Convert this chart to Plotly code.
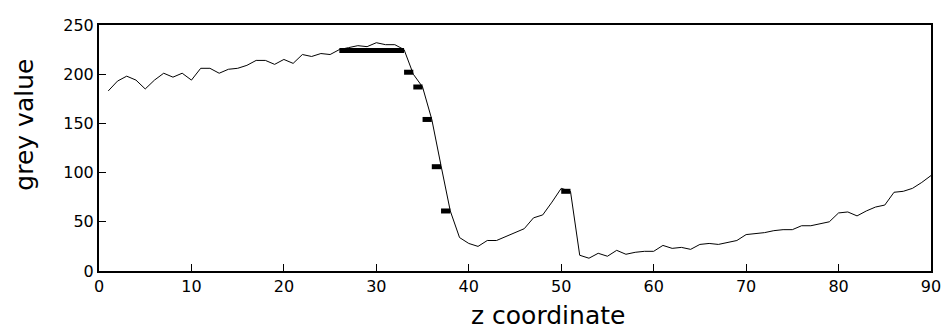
import plotly.graph_objects as go

z = list(range(1, 91))
grey = [183, 193, 198, 194, 185, 194, 201, 197, 201, 194,
        206, 206, 201, 205, 206, 209, 214, 214, 210, 215,
        211, 220, 218, 221, 220, 225, 227, 229, 228, 232,
        230, 230, 225, 200, 187, 154, 107, 61, 34, 28,
        25, 31, 31, 35, 39, 43, 54, 57, 70, 84,
        81, 16, 13, 18, 15, 21, 17, 19, 20, 20,
        26, 23, 24, 22, 27, 28, 27, 29, 31, 37,
        38, 39, 41, 42, 42, 46, 46, 48, 50, 59,
        60, 56, 61, 65, 67, 80, 81, 84, 90, 97]

seg_start = [26, 33, 34, 35, 36, 37, 50]
seg_end = [33, 34, 35, 36, 37, 38, 51]
seg_value = [224, 202, 187, 154, 106, 61, 81]

x_ticks = [0, 10, 20, 30, 40, 50, 60, 70, 80, 90]
y_ticks = [0, 50, 100, 150, 200, 250]

bx, by = [], []
for s, e, v in zip(seg_start, seg_end, seg_value):
    bx += [s, e, None]
    by += [v, v, None]

fig = go.Figure()
fig.add_trace(go.Scatter(x=z, y=grey, mode="lines",
                         line=dict(color="black", width=1), showlegend=False))
fig.add_trace(go.Scatter(x=bx, y=by, mode="lines",
                         line=dict(color="black", width=5), showlegend=False))

font = "DejaVu Sans"
fig.update_layout(
    width=942, height=323,
    margin=dict(l=91, r=19, t=8, b=60),
    plot_bgcolor="white", paper_bgcolor="white",
    font=dict(family=font, color="black", size=16),
    xaxis=dict(range=[0, 90], tickvals=x_ticks, ticks="inside", ticklen=7,
               tickwidth=1, tickcolor="black", showgrid=False, zeroline=False,
               showline=True, linecolor="black", linewidth=2, mirror=True,
               tickfont=dict(size=16)),
    yaxis=dict(range=[0, 250], tickvals=y_ticks, ticks="inside", ticklen=7,
               tickwidth=1, tickcolor="black", showgrid=False, zeroline=False,
               showline=True, linecolor="black", linewidth=2, mirror=True,
               tickfont=dict(size=16)),
    annotations=[
        dict(text="z coordinate", xref="paper", yref="paper", x=0.54, y=0,
             xanchor="center", yanchor="middle", yshift=-44, showarrow=False,
             font=dict(size=25, family=font, color="black")),
        dict(text="grey value", xref="paper", yref="paper", x=0, y=0.595,
             xanchor="center", yanchor="middle", xshift=-74, textangle=-90,
             showarrow=False, font=dict(size=25, family=font, color="black")),
    ],
)

fig.write_html("out.html")
